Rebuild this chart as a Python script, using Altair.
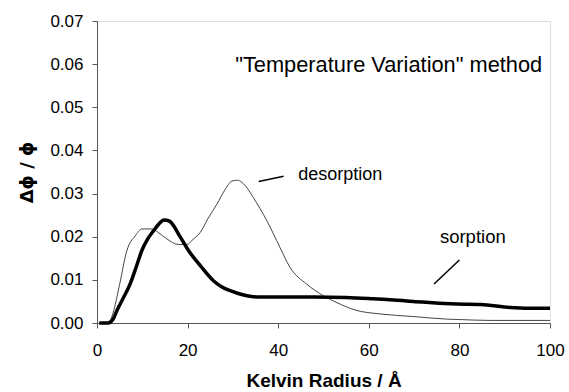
import altair as alt
import pandas as pd

# Desorption (thin line)
des_x = [0.5, 2, 3, 3.7, 5, 6.6, 8.45, 9.9, 12.1, 13.5, 15.4, 18, 19.9, 21, 22.8, 24.5, 26.5, 28.2, 29.8, 31, 32,
         33.2, 34.5, 37.5, 40.4, 42.6, 46.3, 50, 53, 57, 62.5, 69.8, 77.2, 80, 86.8, 100]
des_y = [0, 0, 0.0008, 0.0029, 0.009, 0.0168, 0.0202, 0.0218, 0.0218, 0.021, 0.0195, 0.0182, 0.0182, 0.0192,
         0.021, 0.0242, 0.0276, 0.0308, 0.0329, 0.0331, 0.0326, 0.0312, 0.0291, 0.0237, 0.0175, 0.0129,
         0.009, 0.0063, 0.0047, 0.003, 0.0021, 0.0015, 0.0009, 0.0008, 0.0006, 0.0006]

# Sorption (thick line)
sor_x = [0.5, 2.5, 3.5, 4.4, 5.8, 7.3, 8.6, 9.9, 11.2, 12.5, 13.7, 14.8, 16, 18.4, 20.2, 22.8, 25.7,
         27.5, 29.4, 31, 33.1, 36, 47.8, 55, 61, 69.8, 79.4, 84.7, 91.2, 97.8, 100]
sor_y = [0, 0, 0.0008, 0.0029, 0.0058, 0.009, 0.0128, 0.0168, 0.0195, 0.0214, 0.023, 0.0239, 0.0236, 0.0199,
         0.0168, 0.0133, 0.0098, 0.0084, 0.0075, 0.0069, 0.0063, 0.006, 0.006, 0.0059, 0.0056,
         0.005, 0.0044, 0.0043, 0.0036, 0.0034, 0.0034]

x_ticks = [0, 20, 40, 60, 80, 100]
y_ticks = [0.0, 0.01, 0.02, 0.03, 0.04, 0.05, 0.06, 0.07]

# Annotations
ann_text = ['"Temperature Variation" method', "desorption", "sorption"]
ann_tx = [30.5, 44.4, 75.7]
ann_ty = [0.0597, 0.0342, 0.0199]
ann_size = [21.8, 18, 18.5]

lead_x = [35.7, 74.4]
lead_y = [0.0328, 0.00905]
lead_x2 = [41.2, 80.0]
lead_y2 = [0.0340, 0.0146]

FONT = "Liberation Sans"

des_df = pd.DataFrame({"x": des_x, "y": des_y})
sor_df = pd.DataFrame({"x": sor_x, "y": sor_y})
ann_df = pd.DataFrame({"t": ann_text, "x": ann_tx, "y": ann_ty, "s": ann_size})
lead_df = pd.DataFrame({"x": lead_x, "y": lead_y, "x2": lead_x2, "y2": lead_y2})

xs = alt.Scale(domain=[0, 100], nice=False, zero=False)
ys = alt.Scale(domain=[0, 0.07], nice=False)

xax = alt.Axis(values=x_ticks, title="Kelvin Radius / Å", grid=False, labelFont=FONT, labelFontSize=17,
               labelColor="black", titleFont=FONT, titleFontSize=19, titleFontWeight="bold",
               titleColor="black", domainColor="#555", tickColor="#555", tickSize=5, labelPadding=14,
               titlePadding=13, labelFlush=False)
yax = alt.Axis(values=y_ticks, format=".2f", title="Δϕ / ϕ", grid=False, labelFont=FONT, labelFontSize=17,
               labelColor="black", titleFont="DejaVu Sans", titleFontSize=18, titleFontWeight="bold",
               titleColor="black", domainColor="#555", tickColor="#555", tickSize=5, labelPadding=9,
               titlePadding=13, labelFlush=False)

des = alt.Chart(des_df).mark_line(color="#444", strokeWidth=1, interpolate="monotone").encode(
    x=alt.X("x:Q", scale=xs, axis=xax), y=alt.Y("y:Q", scale=ys, axis=yax))
sor = alt.Chart(sor_df).mark_line(color="black", strokeWidth=3.5, interpolate="monotone").encode(
    x=alt.X("x:Q", scale=xs), y=alt.Y("y:Q", scale=ys))
leads = alt.Chart(lead_df).mark_rule(color="black", strokeWidth=1.5).encode(
    x=alt.X("x:Q", scale=xs), y=alt.Y("y:Q", scale=ys), x2="x2:Q", y2="y2:Q")
texts = alt.Chart(ann_df).mark_text(align="left", baseline="middle", font=FONT, color="black").encode(
    x=alt.X("x:Q", scale=xs), y=alt.Y("y:Q", scale=ys), text="t:N",
    size=alt.Size("s:Q", scale=None, legend=None))

chart = alt.layer(des, sor, leads, texts).properties(
    width=453, height=302,
    autosize=alt.AutoSizeParams(type="none"),
    padding={"left": 97, "top": 21, "right": 19, "bottom": 69},
).configure_view(stroke=None).configure(background="white")

chart.save("out.html", embed_options={"renderer": "svg", "actions": False})
